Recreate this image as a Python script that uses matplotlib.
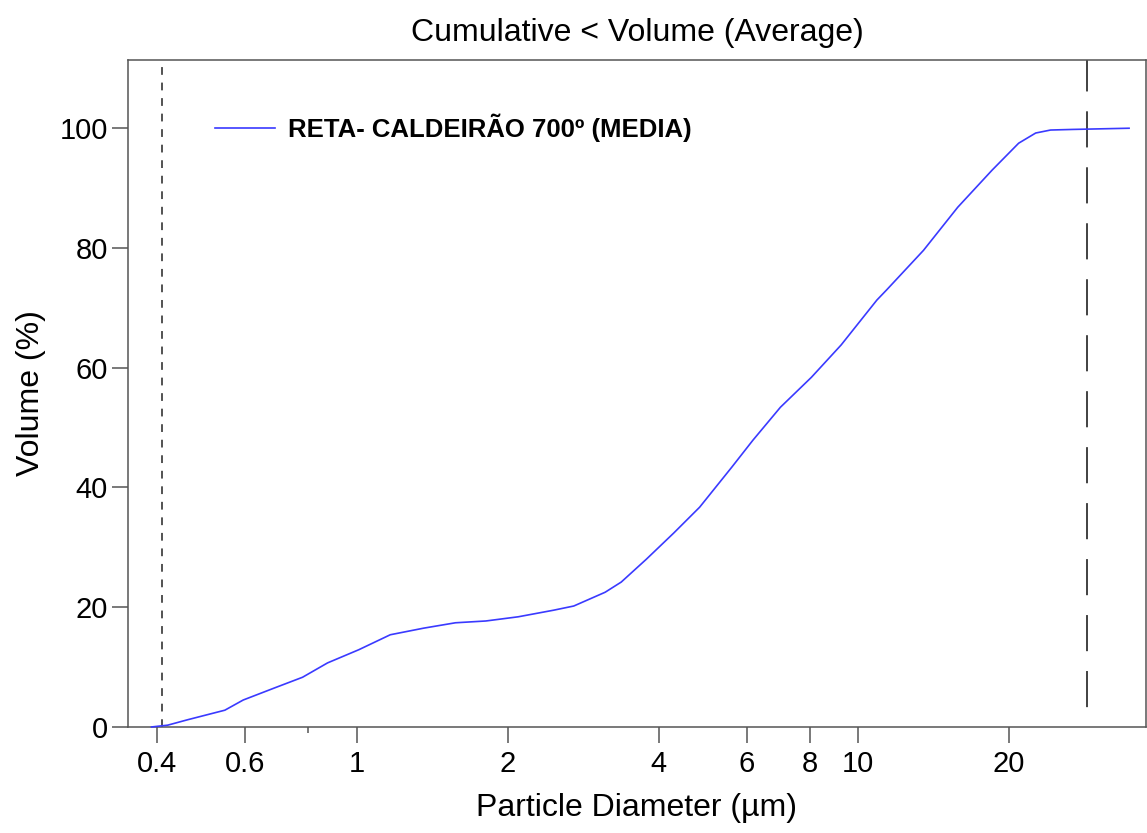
import numpy as np
import matplotlib
matplotlib.use("Agg")
import matplotlib.pyplot as plt

# cumulative volume curve
diameter = [0.39, 0.42, 0.46, 0.546, 0.594, 0.685, 0.78, 0.875, 1.01, 1.167,
            1.36, 1.574, 1.81, 2.10, 2.47, 2.71, 3.13, 3.37, 3.78, 4.29,
            4.83, 5.60, 6.17, 7.00, 8.07, 9.25, 10.9, 11.4, 13.5, 15.8,
            18.5, 20.9, 22.6, 24.2, 26.8, 34.7]
volume = [0.0, 0.3, 1.2, 2.8, 4.5, 6.5, 8.3, 10.7, 12.9, 15.4,
          16.5, 17.4, 17.7, 18.4, 19.5, 20.2, 22.5, 24.2, 28.0, 32.4,
          36.7, 43.4, 47.9, 53.4, 58.4, 63.8, 71.3, 73.0, 79.6, 86.8,
          93.0, 97.5, 99.2, 99.7, 99.8, 100.0]

x_ticks = [0.4, 0.6, 1, 2, 4, 6, 8, 10, 20]
x_ticklabels = ["0.4", "0.6", "1", "2", "4", "6", "8", "10", "20"]
x_minor = [0.8]
y_ticks = [0, 20, 40, 60, 80, 100]

lower_limit = 0.41
upper_limit = 28.6

plt.rcParams['font.family'] = ['Liberation Sans', 'DejaVu Sans']

fig = plt.figure(figsize=(11.47, 8.33), dpi=100)
ax = fig.add_axes([0.1116, 0.1273, 0.8875, 0.8007])

ax.plot(diameter, volume, color="#3a3aff", lw=1.2, label="RETA- CALDEIRÃO 700º (MEDIA)",
        clip_on=False, zorder=3)
ax.axvline(lower_limit, color="#444444", lw=1.3, ls=(0, (4.3, 4.3)))
ax.axvline(upper_limit, color="#333333", lw=1.3, ls=(20, (20, 11)))

ax.set_xscale("log")
ax.set_xlim(0.35, 37.5)
ax.set_ylim(0, 111.4)

ax.set_xticks(x_ticks)
ax.set_xticklabels(x_ticklabels)
ax.set_xticks(x_minor, minor=True)
ax.xaxis.set_minor_formatter(matplotlib.ticker.NullFormatter())
ax.set_yticks(y_ticks)

for s in ax.spines.values():
    s.set_color("#555555")
    s.set_linewidth(1.1)
ax.tick_params(axis="both", which="major", direction="out", length=11.5, width=1.1,
               color="#555555", labelsize=21)
ax.tick_params(axis="x", which="major", pad=5)
ax.tick_params(axis="y", which="major", pad=3)
ax.tick_params(axis="x", which="minor", direction="out", length=4.3, width=1.1, color="#555555")

ax.set_title("Cumulative < Volume (Average)", fontsize=23, pad=14)
ax.set_xlabel("Particle Diameter (µm)", fontsize=23, labelpad=11)
ax.set_ylabel("Volume (%)", fontsize=23, labelpad=10)

leg = ax.legend(loc="center left", bbox_to_anchor=(0.0855, 0.898), frameon=False,
                prop={"weight": "bold", "size": 18.5}, handlelength=2.35,
                handletextpad=0.5, borderpad=0, borderaxespad=0)

fig.savefig("out.png", dpi=100)
